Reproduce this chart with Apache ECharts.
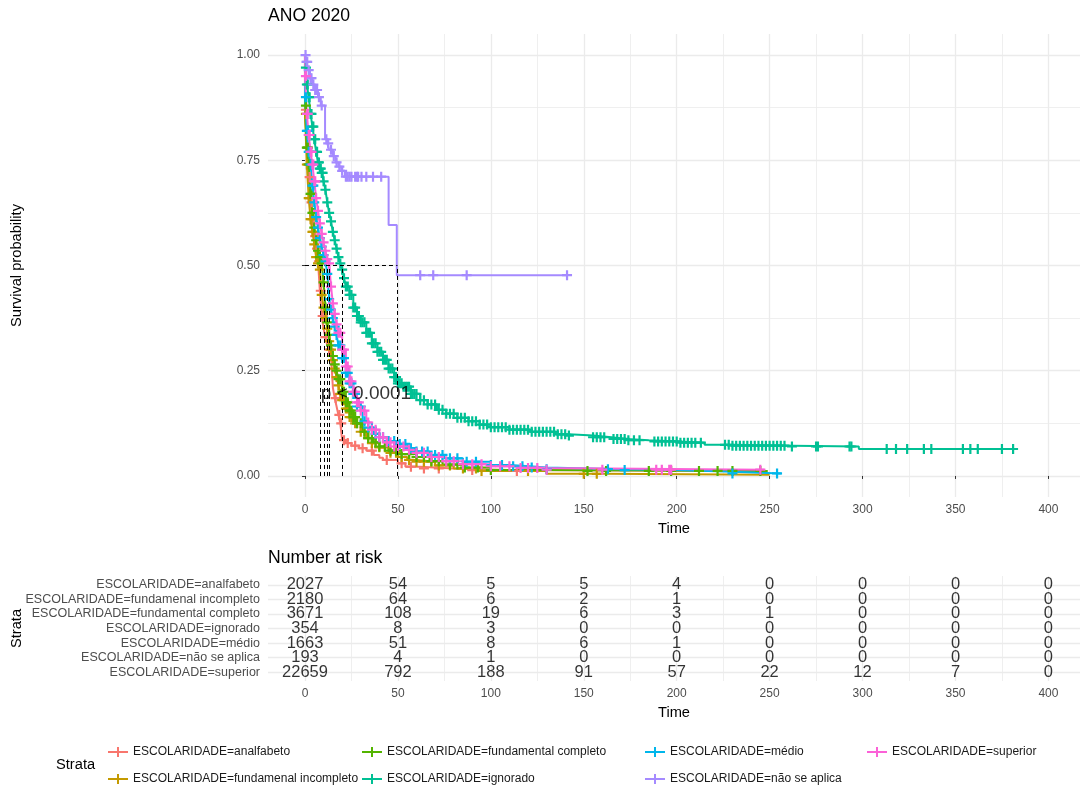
<!DOCTYPE html>
<html><head><meta charset="utf-8">
<script src="https://cdn.jsdelivr.net/npm/echarts@6/dist/echarts.min.js"></script>
<style>html,body{margin:0;padding:0;background:#fff}#c{width:1083px;height:789px}</style>
</head><body><div id="c"></div>
<script>
// ---------------- DATA ----------------
const strata = ['ESCOLARIDADE=analfabeto','ESCOLARIDADE=fundamenal incompleto','ESCOLARIDADE=fundamental completo','ESCOLARIDADE=ignorado','ESCOLARIDADE=médio','ESCOLARIDADE=não se aplica','ESCOLARIDADE=superior'];
const colors = ['#F8766D','#C49A00','#53B400','#00C094','#00B6EB','#A58AFF','#FB61D7'];

// Kaplan-Meier step curves (time, survival)
const time_analfabeto = [0,0,1,2,3,4,5,6,7,8,9,10,11,12,13,14,15,16,17,18,19,20,22,25,29,33,37,40,42,50,54,62,80,110,248];
const surv_analfabeto = [1,0.87,0.78,0.71,0.65,0.61,0.57,0.54,0.51,0.44,0.38,0.35,0.33,0.31,0.30,0.285,0.21,0.185,0.165,0.145,0.125,0.085,0.078,0.072,0.066,0.06,0.05,0.043,0.038,0.03,0.022,0.018,0.014,0.012,0.012];

const time_fund_inc = [0,0,1,2,3,4,5,6,7,8,9,10,11,12,13,14,15,16,17,18,19,20,22,24,27,30,33,36,40,45,50,55,60,70,80,95,130,160,250];
const surv_fund_inc = [1,0.86,0.74,0.66,0.61,0.58,0.55,0.52,0.505,0.49,0.43,0.40,0.375,0.35,0.32,0.30,0.275,0.255,0.235,0.215,0.195,0.18,0.16,0.14,0.125,0.105,0.09,0.078,0.068,0.055,0.045,0.038,0.034,0.025,0.018,0.012,0.005,0.003,0.003];

const time_fund_comp = [0,0,1,2,3,4,5,6,7,8,9,10,11,12,13,14,15,16,17,18,20,22,24,26,28,31,34,37,40,45,50,60,67,74,85,100,120,249];
const surv_fund_comp = [1,0.88,0.78,0.74,0.67,0.625,0.59,0.56,0.535,0.52,0.505,0.46,0.40,0.365,0.335,0.31,0.285,0.265,0.25,0.23,0.20,0.175,0.155,0.14,0.125,0.105,0.09,0.08,0.07,0.06,0.052,0.045,0.035,0.027,0.02,0.014,0.012,0.012];

const time_ignorado = [0,0,1,2,3,4,5,6,7,8,9,10,11,12,13,14,15,16,17,18,19,20,21,22,24,26,28,30,33,36,39,42,45,48,50,53,57,62,66,71,76,82,88,94,100,110,121,135,142,155,165,173,185,201,215,230,262,298,381];
const surv_ignorado = [1,0.97,0.93,0.90,0.86,0.83,0.80,0.77,0.745,0.73,0.72,0.70,0.68,0.65,0.625,0.605,0.58,0.56,0.54,0.52,0.505,0.49,0.47,0.45,0.43,0.40,0.38,0.365,0.34,0.315,0.295,0.276,0.255,0.235,0.22,0.212,0.195,0.18,0.17,0.157,0.148,0.138,0.13,0.122,0.116,0.11,0.105,0.099,0.096,0.092,0.088,0.085,0.082,0.079,0.074,0.072,0.07,0.064,0.064];

const time_medio = [0,0,1,2,3,4,5,6,7,8,9,10,11,12,13,14,15,16,17,18,20,22,24,26,28,31,34,37,40,45,49,55,60,67,75,85,100,110,121,130,170,200,230,256];
const surv_medio = [1,0.90,0.82,0.77,0.74,0.69,0.65,0.615,0.59,0.565,0.545,0.525,0.51,0.48,0.42,0.395,0.375,0.355,0.335,0.31,0.28,0.245,0.22,0.195,0.165,0.13,0.115,0.10,0.092,0.083,0.076,0.066,0.058,0.05,0.042,0.034,0.026,0.023,0.02,0.016,0.014,0.01,0.006,0.004];

const time_nao = [0,0.5,1.5,2.7,4,5.5,7,8.5,10.8,12,13,15,16.5,18,19.5,21.5,45,49.4,141];
const surv_nao = [1,0.984,0.964,0.945,0.93,0.917,0.9,0.88,0.80,0.79,0.775,0.76,0.745,0.735,0.725,0.711,0.596,0.477,0.477];

const time_superior = [0,0,1,2,3,4,5,6,7,8,9,10,11,12,13,14,15,16,17,18,20,22,24,26,28,30,33,36,40,44,48,54,60,67,74,85,100,115,130,247];
const surv_superior = [1,0.95,0.86,0.81,0.77,0.74,0.70,0.66,0.63,0.60,0.575,0.555,0.535,0.515,0.505,0.45,0.41,0.385,0.36,0.34,0.30,0.26,0.225,0.2,0.175,0.155,0.127,0.11,0.092,0.08,0.07,0.062,0.055,0.045,0.035,0.028,0.023,0.019,0.015,0.015];

// censoring times (+ marks)
const cens_analfabeto = [0.5,1.5,2.5,3.5,4.5,5.5,6.5,7.5,8.5,9.5,11,13,14.5,16.5,18.5,19.5,21,23,27,31,36,44,52,57,64,72,90,114];
const cens_fund_inc = [0.5,1,1.5,2,2.5,3,3.5,4,4.5,5,6,7,8,9,10,11,12,13,14,15,16,17,18,19,20,21,22,23,24,25,26,27,28,30,32,34,36,38,40,43,46,49,52,56,60,64,68,72,78,85,92,95,120,150,157];
const cens_fund_comp = [0.5,1,1.5,2,2.5,3,3.5,4,4.5,5,6,7,8,9,10,11,12,13,14,15,16,17,18,19,20,21,22,23,24,25,26,27,28,30,32,34,36,38,40,43,46,49,52,56,60,64,68,72,78,82,86,93,100,152,162,185,197,212,222,230,245];
const cens_ignorado = [0.5,1,1.5,2,2.5,3,3.5,4,4.5,5,5.5,6,6.5,7,7.5,8,8.5,9,9.5,10,11,12,13,14,15,16,17,18,19,20,21,22,23,24,25,26,27,28,29,30,31,32,33,34,35,36,37,38,39,40,41,42,43,44,45,46,47,48,49,50,51,52,53,54,55,56,57,58,59,60,62,64,66,68,70,72,74,76,78,80,82,84,86,88,90,92,94,96,98,100,102,104,106,108,110,112,114,116,118,120,122,124,126,128,130,132,134,136,138,140,142,155,157,159,161,166,168,170,172,174,177,180,188,190,192,194,196,198,200,202,204,206,208,210,213,226,228,230,232,234,236,238,240,242,244,246,248,250,252,254,256,258,262,275,276,293,294,313,318,324,333,337,354,358,362,375,381];
const cens_medio = [0.5,1,1.5,2,2.5,3,3.5,4,4.5,5,6,7,8,9,10,11,12,13,14,15,16,17,18,19,20,21,22,23,24,25,26,27,28,30,32,34,36,38,40,42,45,48,51,54,57,60,63,66,70,74,78,82,87,92,100,106,112,117,122,130,163,172,230,254];
const cens_nao = [0.3,0.8,1.2,2,3,3.5,4.5,5.5,6.5,7.5,9,11.5,12.5,14,15.5,17,18.5,20,22,23,24,25,27,28,28.6,30.4,33,36.6,41,62,69,87,141];
const cens_superior = [0.5,1,1.5,2,2.5,3,3.5,4,4.5,5,5.5,6,7,8,9,10,11,12,13,14,15,16,17,18,19,20,21,22,23,24,25,26,27,28,29,30,32,34,36,38,40,42,44,46,48,50,53,56,60,64,68,72,76,80,85,90,95,100,105,110,116,120,125,130,160,189,192,196,197,245];

// median survival times (dashed lines)
const medians = [8.4, 8.4, 10.2, 20.3, 12, 49.4, 13.1];

// p-value annotation
const pvalText = 'p < 0.0001';
const pvalCoord = [8, 0.195];

// number at risk table
const riskTimes = [0,50,100,150,200,250,300,350,400];
const risk_analfabeto = [2027,54,5,5,4,0,0,0,0];
const risk_fund_inc = [2180,64,6,2,1,0,0,0,0];
const risk_fund_comp = [3671,108,19,6,3,1,0,0,0];
const risk_ignorado = [354,8,3,0,0,0,0,0,0];
const risk_medio = [1663,51,8,6,1,0,0,0,0];
const risk_nao = [193,4,1,0,0,0,0,0,0];
const risk_superior = [22659,792,188,91,57,22,12,7,0];

// axis ticks
const xTicks = [0,50,100,150,200,250,300,350,400];
const xMinor = [25,75,125,175,225,275,325,375];
const yTicks = [0,0.25,0.5,0.75,1];
const yMinor = [0.125,0.375,0.625,0.875];

// ---------------- BUILD ----------------
const times = [time_analfabeto,time_fund_inc,time_fund_comp,time_ignorado,time_medio,time_nao,time_superior];
const survs = [surv_analfabeto,surv_fund_inc,surv_fund_comp,surv_ignorado,surv_medio,surv_nao,surv_superior];
const cens = [cens_analfabeto,cens_fund_inc,cens_fund_comp,cens_ignorado,cens_medio,cens_nao,cens_superior];
const risks = [risk_analfabeto,risk_fund_inc,risk_fund_comp,risk_ignorado,risk_medio,risk_nao,risk_superior];

function survAt(ts, ss, t) {
  let v = ss[0];
  for (let i = 0; i < ts.length; i++) { if (ts[i] <= t) v = ss[i]; else break; }
  return v;
}

const XMIN = -19.9, XMAX = 417, YMIN = -0.05, YMAX = 1.05;
const FONT = '"Liberation Sans", Arial, sans-serif';
const GRID = '#EBEBEB';
const PLUS = 'path://M0,3.9L10,3.9L10,6.1L0,6.1Z M3.9,0L6.1,0L6.1,10L3.9,10Z';
const LEGEND_ICON = 'path://M0,4L20,4L20,6L0,6Z M9,0L11,0L11,10L9,10Z';
const CLEAR = 'rgba(0,0,0,0)';

const series = [];
// main gridlines
series.push({
  type:'lines', coordinateSystem:'cartesian2d', xAxisIndex:0, yAxisIndex:0, silent:true, z:0,
  lineStyle:{color:GRID, width:1.3, opacity:1},
  data: xTicks.map(x=>({coords:[[x,YMIN],[x,YMAX]]})).concat(yTicks.map(y=>({coords:[[XMIN,y],[XMAX,y]]})))
});
series.push({
  type:'lines', coordinateSystem:'cartesian2d', xAxisIndex:0, yAxisIndex:0, silent:true, z:0,
  lineStyle:{color:GRID, width:0.8, opacity:1},
  data: xMinor.map(x=>({coords:[[x,YMIN],[x,YMAX]]})).concat(yMinor.map(y=>({coords:[[XMIN,y],[XMAX,y]]})))
});
// table gridlines
series.push({
  type:'lines', coordinateSystem:'cartesian2d', xAxisIndex:1, yAxisIndex:1, silent:true, z:0,
  lineStyle:{color:GRID, width:1.3, opacity:1},
  data: xTicks.map(x=>({coords:[[x,-0.6],[x,6.6]]})).concat(strata.map((s,i)=>({coords:[[XMIN,i],[XMAX,i]]})))
});
series.push({
  type:'lines', coordinateSystem:'cartesian2d', xAxisIndex:1, yAxisIndex:1, silent:true, z:0,
  lineStyle:{color:GRID, width:0.8, opacity:1},
  data: xMinor.map(x=>({coords:[[x,-0.6],[x,6.6]]}))
});

// curves
strata.forEach((name,i)=>{
  series.push({
    name, type:'line', step:'end', xAxisIndex:0, yAxisIndex:0, showSymbol:false, symbol:'none',
    z:2, silent:true, animation:false,
    lineStyle:{color:colors[i], width:2},
    itemStyle:{color:colors[i]},
    data: times[i].map((t,k)=>[t, survs[i][k]])
  });
});
// censor marks
strata.forEach((name,i)=>{
  series.push({
    name, type:'scatter', xAxisIndex:0, yAxisIndex:0, z:3, silent:true,
    symbol:PLUS, symbolSize:10,
    itemStyle:{color:colors[i], opacity:1},
    data: cens[i].map(t=>[t, survAt(times[i], survs[i], t)])
  });
});
// median lines
const maxMed = Math.max(...medians);
series.push({
  type:'lines', coordinateSystem:'cartesian2d', xAxisIndex:0, yAxisIndex:0, silent:true, z:4,
  lineStyle:{color:'#000', width:1, type:[4,3], opacity:1},
  data: [{coords:[[0,0.5],[maxMed,0.5]]}].concat(medians.map(m=>({coords:[[m,0],[m,0.5]]})))
});
// p-value
series.push({
  type:'scatter', xAxisIndex:0, yAxisIndex:0, z:5, silent:true, symbolSize:2,
  itemStyle:{color:CLEAR},
  label:{show:true, position:'right', distance:0, formatter:pvalText, fontSize:19, color:'#000', fontFamily:FONT},
  data:[pvalCoord]
});
// risk table numbers
const riskData = [];
risks.forEach((r,i)=>r.forEach((n,j)=>riskData.push([riskTimes[j], i, n])));
series.push({
  type:'scatter', xAxisIndex:1, yAxisIndex:1, z:5, silent:true, symbolSize:2,
  itemStyle:{color:CLEAR},
  label:{show:true, position:'inside', formatter:p=>String(p.value[2]), fontSize:16.5, color:'#000', fontFamily:FONT},
  labelLayout:{hideOverlap:false},
  data: riskData
});

const legendCols = [[0,1],[2,3],[4,5],[6]];
const legendLeft = [108, 362, 645, 867];
const legends = legendCols.map((col,c)=>({
  orient:'vertical', left:legendLeft[c], top:746, padding:0, itemGap:15,
  itemWidth:20, itemHeight:10, selectedMode:false,
  textStyle:{fontSize:12, color:'#1A1A1A', fontFamily:FONT},
  data: col.map(i=>({name:strata[i], icon:LEGEND_ICON, itemStyle:{color:colors[i], borderWidth:0}}))
}));

const axisLabelStyle = {color:'#4D4D4D', fontSize:12, fontFamily:FONT};

const option = {
  animation:false,
  backgroundColor:'#fff',
  textStyle:{fontFamily:FONT},
  grid:[
    {left:268, top:34, width:812, height:463},
    {left:268, top:576, width:812, height:105}
  ],
  xAxis:[
    {type:'value', gridIndex:0, min:XMIN, max:XMAX, axisLine:{show:false}, splitLine:{show:false},
     axisTick:{show:true, customValues:xTicks, length:3, lineStyle:{color:'#333'}},
     axisLabel:Object.assign({customValues:xTicks, margin:7}, axisLabelStyle),
     name:'Time', nameLocation:'middle', nameGap:24, nameTextStyle:{fontSize:14.67, color:'#000', fontFamily:FONT}},
    {type:'value', gridIndex:1, min:XMIN, max:XMAX, axisLine:{show:false}, splitLine:{show:false},
     axisTick:{show:false},
     axisLabel:Object.assign({customValues:xTicks, margin:7}, axisLabelStyle),
     name:'Time', nameLocation:'middle', nameGap:24, nameTextStyle:{fontSize:14.67, color:'#000', fontFamily:FONT}}
  ],
  yAxis:[
    {type:'value', gridIndex:0, min:YMIN, max:YMAX, axisLine:{show:false}, splitLine:{show:false},
     axisTick:{show:true, customValues:yTicks, length:3, lineStyle:{color:'#333'}},
     axisLabel:Object.assign({customValues:yTicks, margin:8, formatter:v=>v.toFixed(2)}, axisLabelStyle)},
    {type:'value', gridIndex:1, min:-0.6, max:6.6, inverse:true, axisLine:{show:false}, splitLine:{show:false},
     axisTick:{show:false},
     axisLabel:Object.assign({customValues:[0,1,2,3,4,5,6], margin:8, formatter:v=>strata[Math.round(v)]}, axisLabelStyle, {fontSize:12.5})}
  ],
  legend: legends,
  graphic:[
    {type:'text', left:268, top:7, style:{text:'ANO 2020', font:'17.6px '+FONT, fill:'#000'}},
    {type:'text', x:17, y:265.5, rotation:Math.PI/2, style:{text:'Survival probability', font:'14.67px '+FONT, fill:'#000', align:'center', verticalAlign:'middle'}},
    {type:'text', left:268, top:549, style:{text:'Number at risk', font:'17.6px '+FONT, fill:'#000'}},
    {type:'text', x:17, y:628.5, rotation:Math.PI/2, style:{text:'Strata', font:'14.67px '+FONT, fill:'#000', align:'center', verticalAlign:'middle'}},
    {type:'text', x:56, y:765, style:{text:'Strata', font:'14.67px '+FONT, fill:'#000', align:'left', verticalAlign:'middle'}}
  ],
  series
};
const chart = echarts.init(document.getElementById('c'), null, {renderer:'canvas'});
chart.setOption(option);
</script></body></html>
